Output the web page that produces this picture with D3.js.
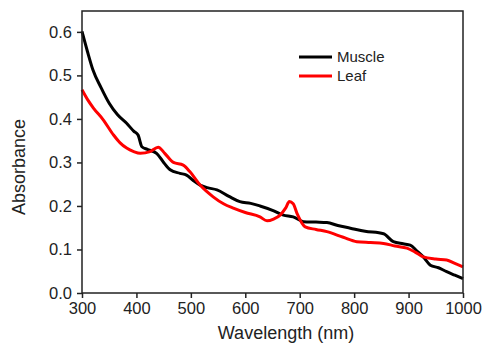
<!DOCTYPE html>
<html>
<head>
<meta charset="utf-8">
<script src="https://cdn.jsdelivr.net/npm/d3@7"></script>
<style>
body { margin:0; background:#fff; }
text { font-family: "Liberation Sans", Arial, sans-serif; fill:#222; }
</style>
</head>
<body>
<svg id="graph"></svg>
<script>
// wavelengths (nm) and absorbance
var muscleWl  = [300,310,320,335,350,365,382,395,403,410,420,437,450,462,480,492,505,517,530,548,570,590,610,627,650,670,688,707,730,750,770,793,820,854,872,890,903,915,927,940,955,970,985,1000];
var muscleAbs = [0.601,0.555,0.513,0.472,0.436,0.41,0.39,0.372,0.363,0.336,0.33,0.321,0.3,0.283,0.275,0.271,0.258,0.248,0.242,0.237,0.222,0.21,0.206,0.2,0.19,0.179,0.175,0.164,0.163,0.162,0.155,0.149,0.142,0.136,0.118,0.113,0.11,0.097,0.083,0.064,0.058,0.049,0.041,0.033];

var leafWl  = [300,310,321,339,358,370,382,395,407,425,440,452,468,486,498,517,541,560,578,600,627,640,652,664,674,681,688,695,710,730,750,780,805,830,854,875,897,912,927,950,970,985,1000];
var leafAbs = [0.467,0.445,0.425,0.398,0.363,0.345,0.333,0.325,0.321,0.325,0.335,0.321,0.3,0.294,0.279,0.248,0.221,0.205,0.195,0.185,0.175,0.166,0.17,0.179,0.195,0.21,0.205,0.183,0.152,0.146,0.141,0.128,0.118,0.116,0.114,0.108,0.103,0.094,0.083,0.078,0.076,0.068,0.06];

var seriesNames = ["Muscle","Leaf"];
var seriesColors = ["#000000","#ff0000"];
var xTicks = [300,400,500,600,700,800,900,1000];
var yTicks = [0.0,0.1,0.2,0.3,0.4,0.5,0.6];

var screen = {width:483, height:347};
var margins = {top:11, left:82, right:20, bottom:54};
var graph = {
    width: screen.width-margins.left-margins.right,
    height: screen.height-margins.top-margins.bottom
};

var svg = d3.select("#graph")
    .attr("width",screen.width)
    .attr("height",screen.height);

var xScale = d3.scaleLinear().domain([300,1000]).range([0,graph.width]);
var yScale = d3.scaleLinear().domain([0,0.648]).range([graph.height,0]);

var g = svg.append("g")
    .attr("transform","translate("+margins.left+","+margins.top+")");

// axes
var xAxis = d3.axisBottom(xScale).tickValues(xTicks).tickSize(5).tickPadding(4)
    .tickFormat(d3.format("d"));
var yAxis = d3.axisLeft(yScale).tickValues(yTicks).tickSize(5).tickPadding(5)
    .tickFormat(d3.format(".1f"));

var xg = g.append("g").attr("transform","translate(0,"+graph.height+")").call(xAxis);
var yg = g.append("g").call(yAxis);
[xg,yg].forEach(function(a){
    a.select(".domain").remove();
    a.selectAll("line").attr("stroke","#222").attr("stroke-width",1.5);
    a.selectAll("text").style("font-size","16.5px").attr("fill","#222")
        .style("font-family","'Liberation Sans', Arial, sans-serif");
});

// lines
var lineGenerator = d3.line()
    .x(function(d){ return xScale(d[0]); })
    .y(function(d){ return yScale(d[1]); })
    .curve(d3.curveMonotoneX);

var muscle = d3.zip(muscleWl,muscleAbs);
var leaf = d3.zip(leafWl,leafAbs);

g.append("path")
    .datum(muscle)
    .attr("fill","none")
    .attr("stroke",seriesColors[0])
    .attr("stroke-width",3)
    .attr("d",lineGenerator);

g.append("path")
    .datum(leaf)
    .attr("fill","none")
    .attr("stroke",seriesColors[1])
    .attr("stroke-width",3)
    .attr("d",lineGenerator);

// frame
g.append("rect")
    .attr("width",graph.width)
    .attr("height",graph.height)
    .attr("fill","none")
    .attr("stroke","#222")
    .attr("stroke-width",1.5);

// legend
var legend = svg.append("g").attr("transform","translate(299,57)");
seriesNames.forEach(function(name,i){
    legend.append("line")
        .attr("x1",0).attr("x2",33)
        .attr("y1",i*19).attr("y2",i*19)
        .attr("stroke",seriesColors[i])
        .attr("stroke-width",3);
    legend.append("text")
        .attr("x",38).attr("y",i*19+5)
        .style("font-size","15px")
        .text(name);
});

// labels
svg.append("text")
    .attr("text-anchor","middle")
    .attr("x",286).attr("y",339)
    .style("font-size","18px")
    .text("Wavelength (nm)");

svg.append("text")
    .attr("text-anchor","middle")
    .attr("transform","translate(25,167) rotate(-90)")
    .style("font-size","18px")
    .text("Absorbance");
</script>
</body>
</html>
